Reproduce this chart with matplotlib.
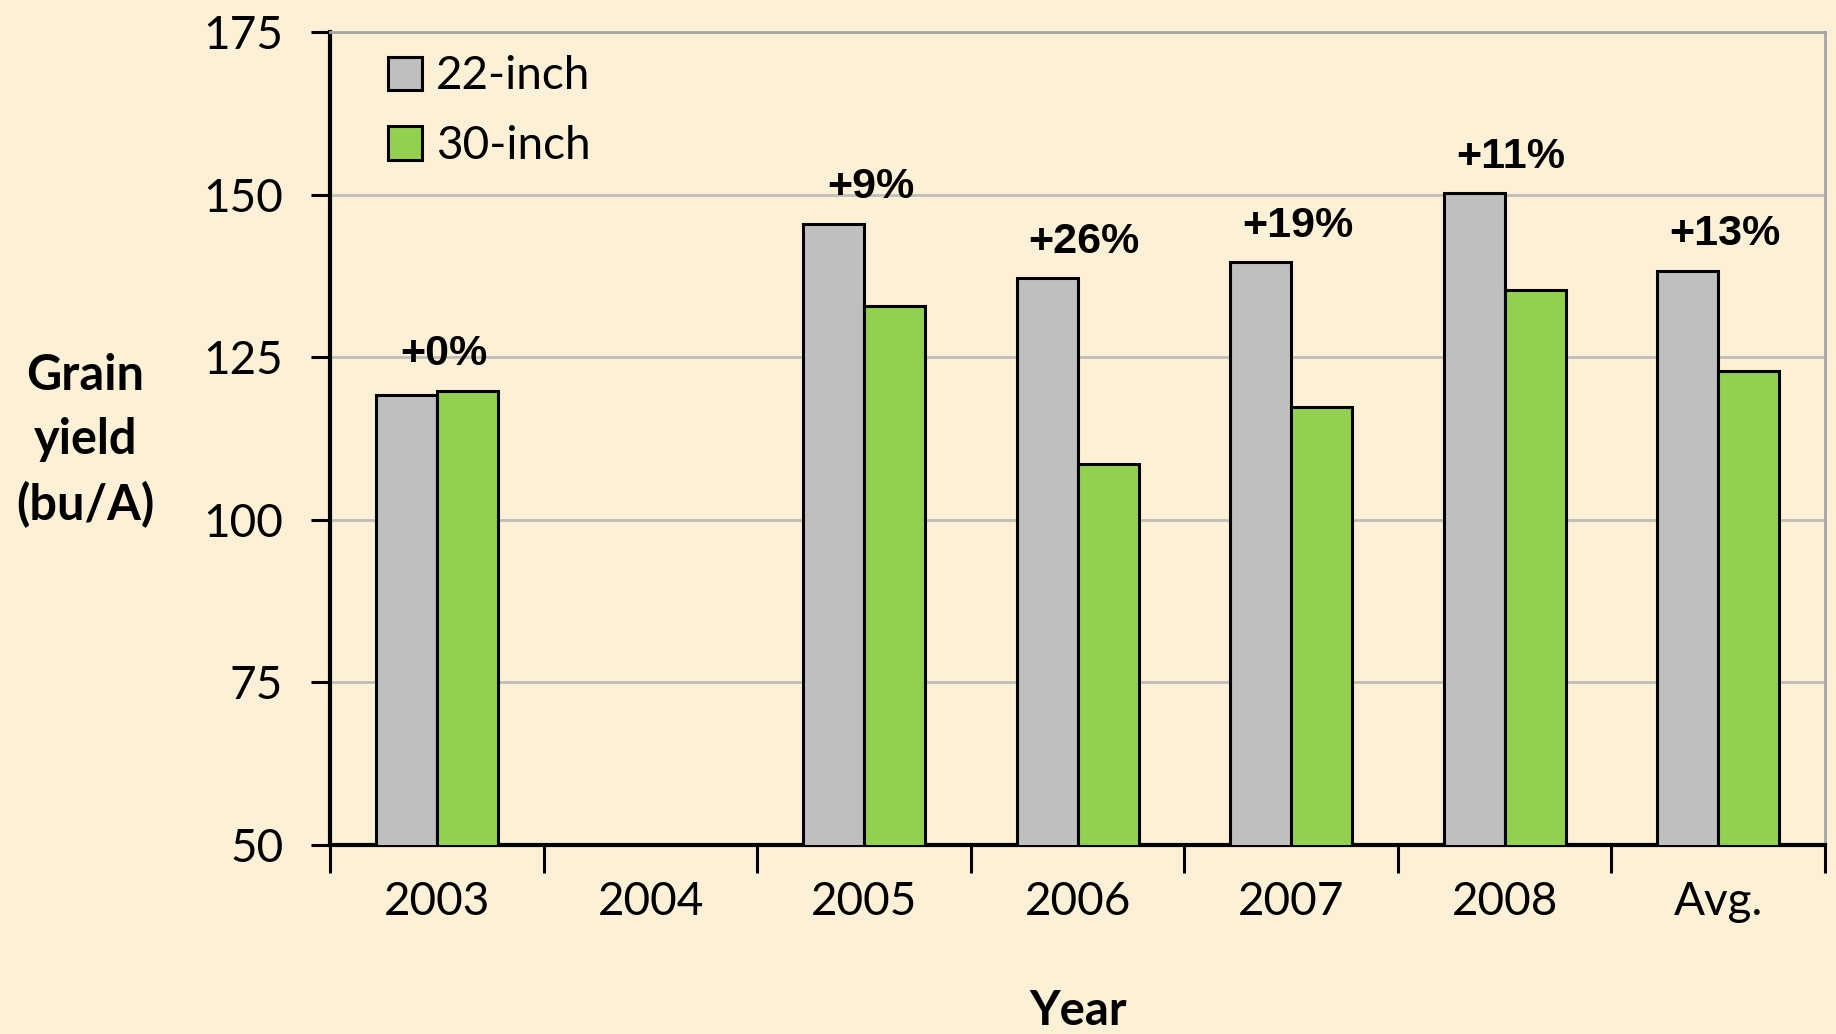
import numpy as np
import matplotlib
matplotlib.use('Agg')
import matplotlib.pyplot as plt

years = ['2003', '2004', '2005', '2006', '2007', '2008', 'Avg.']
yield22 = [119.2, np.nan, 145.5, 137.1, 139.6, 150.2, 138.3]
yield30 = [119.8, np.nan, 132.9, 108.6, 117.3, 135.4, 122.8]
pct_labels = ['+0%', '', '+9%', '+26%', '+19%', '+11%', '+13%']

bg = '#FCF0D6'
gray = '#BFBFBF'
green = '#92D050'

plt.rcParams['font.family'] = ['Lato', 'DejaVu Sans']

fig = plt.figure(figsize=(18.36, 10.34), dpi=100, facecolor=bg)
ax = fig.add_axes([0.180, 0.183, 0.814, 0.786])
ax.set_facecolor(bg)

x = np.arange(len(years))
w = 0.285
ax.bar(x - w/2, yield22, w, color=gray, edgecolor='black', linewidth=2.2,
       label='22-inch', zorder=3)
ax.bar(x + w/2, yield30, w, color=green, edgecolor='black', linewidth=2.2,
       label='30-inch', zorder=3)

# percent difference labels above each group
for i in range(len(years)):
    if pct_labels[i] == '':
        continue
    top = np.nanmax([yield22[i], yield30[i]])
    ax.annotate(pct_labels[i], (x[i] + 0.03, top), xytext=(0, 12),
                textcoords='offset points', ha='center', va='bottom',
                fontsize=31, fontweight='bold', family='Liberation Sans')

ax.set_ylim(50, 175)
ax.set_xlim(-0.5, len(years) - 0.5)
ax.set_yticks([50, 75, 100, 125, 150, 175])
ax.yaxis.grid(True, color='#BDBDBD', linewidth=2, zorder=0)
ax.tick_params(axis='y', labelsize=33, length=14, width=2.2, pad=20)

ax.set_xticks(x)
ax.set_xticklabels(years)
ax.set_xticks(np.arange(len(years) + 1) - 0.5, minor=True)
ax.tick_params(axis='x', which='major', length=0, labelsize=33, pad=26)
ax.tick_params(axis='x', which='minor', length=20, width=2.2)

for s in ['left', 'bottom']:
    ax.spines[s].set_linewidth(3)
    ax.spines[s].set_color('black')
for s in ['top', 'right']:
    ax.spines[s].set_linewidth(2)
    ax.spines[s].set_color('#A6A6A6')

ax.set_ylabel('Grain\nyield\n(bu/A)', rotation=0, fontsize=35, fontweight='bold',
              linespacing=1.5, ha='center', va='center')
ax.yaxis.set_label_coords(-0.164, 0.497)

ax.set_xlabel('Year', fontsize=34, fontweight='bold')
ax.xaxis.set_label_coords(0.5, -0.178)

leg = ax.legend(loc='upper left', frameon=False, fontsize=33,
                bbox_to_anchor=(0.02, 1.005), handlelength=0.75, handleheight=0.75,
                handletextpad=0.3, labelspacing=0.6, borderaxespad=0.2)

fig.savefig('out.png', dpi=100, facecolor=bg)
